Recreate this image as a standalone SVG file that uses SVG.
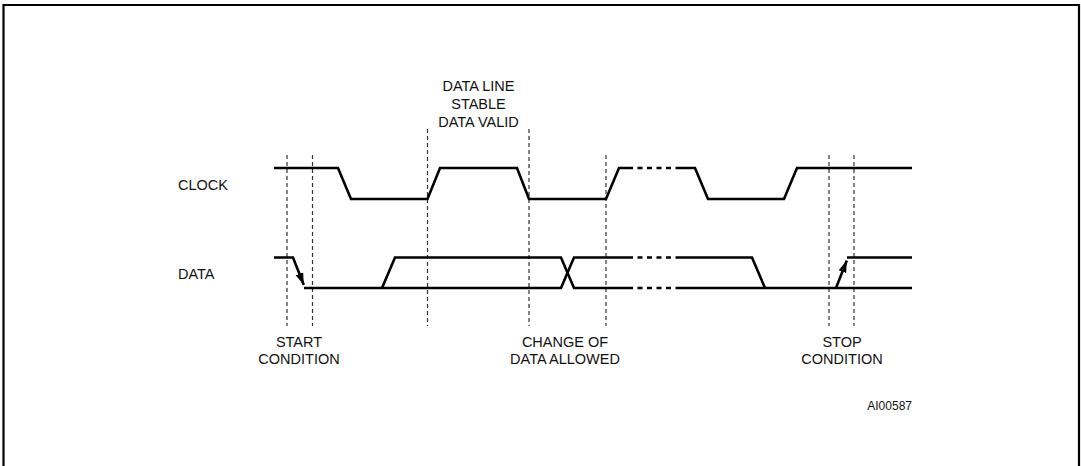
<svg xmlns="http://www.w3.org/2000/svg" width="1081" height="466" viewBox="0 0 1081 466">
<style>
.frame{fill:none;stroke:#000;stroke-width:2.2}
.sig{fill:none;stroke:#000;stroke-width:2.6;stroke-linejoin:miter}
.sigd{fill:none;stroke:#000;stroke-width:2.6;stroke-dasharray:5 4.5}
.guide{fill:none;stroke:#333;stroke-width:1.2;stroke-dasharray:4 3}
text{font-family:"Liberation Sans",Arial,Helvetica,sans-serif;font-size:14.5px;fill:#111}
.mid{text-anchor:middle}
.small{font-size:12px;text-anchor:end}
</style>
<defs>
<marker id="ah" markerUnits="userSpaceOnUse" markerWidth="13" markerHeight="10" viewBox="0 0 13 10" refX="12" refY="5" orient="auto">
<path d="M0,1 L12,5 L0,9 Z" fill="#000"/>
</marker>
</defs>
<rect width="1081" height="466" fill="#fff"/>
<path class="frame" d="M3.5,467 V5 H1079 V467"/>
<g id="guides">
<line class="guide" x1="287" y1="155" x2="287" y2="326"/>
<line class="guide" x1="312.5" y1="155" x2="312.5" y2="326"/>
<line class="guide" x1="427.5" y1="129" x2="427.5" y2="326"/>
<line class="guide" x1="529" y1="129" x2="529" y2="326"/>
<line class="guide" x1="606" y1="155" x2="606" y2="326"/>
<line class="guide" x1="829" y1="155" x2="829" y2="326"/>
<line class="guide" x1="854" y1="155" x2="854" y2="326"/>
</g>
<g id="clock">
<path class="sig" d="M274,168 H338 L351,199 H427.5 L440,168 H517 L529,199 H606 L619,168 H628"/>
<path class="sigd" d="M628,168 H677"/>
<path class="sig" d="M677,168 H695 L708,199 H784 L797,168 H912"/>
</g>
<g id="data">
<path class="sig" d="M274,257.5 H293 L303.8,285" marker-end="url(#ah)"/>
<path class="sig" d="M304,288 H561 L574,257.5 H628"/>
<path class="sig" d="M382,288 L395,257.5 H561 L574,288 H628"/>
<path class="sigd" d="M628,257.5 H677 M628,288 H677"/>
<path class="sig" d="M677,257.5 H752 L765,288"/>
<path class="sig" d="M677,288 H912"/>
<path class="sig" d="M836,288 L846.8,260.5" marker-end="url(#ah)"/>
<path class="sig" d="M847,257.5 H912"/>
</g>
<g id="labels">
<text x="178" y="190">CLOCK</text>
<text x="178" y="279">DATA</text>
<text class="mid" x="478.5" y="90.5">DATA LINE</text>
<text class="mid" x="478.5" y="108.5">STABLE</text>
<text class="mid" x="478.5" y="126.5">DATA VALID</text>
<text class="mid" x="299" y="346.5">START</text>
<text class="mid" x="299" y="364">CONDITION</text>
<text class="mid" x="565" y="346.5">CHANGE OF</text>
<text class="mid" x="565" y="364">DATA ALLOWED</text>
<text class="mid" x="842" y="346.5">STOP</text>
<text class="mid" x="842" y="364">CONDITION</text>
<text class="small" x="912" y="410">AI00587</text>
</g>
</svg>
